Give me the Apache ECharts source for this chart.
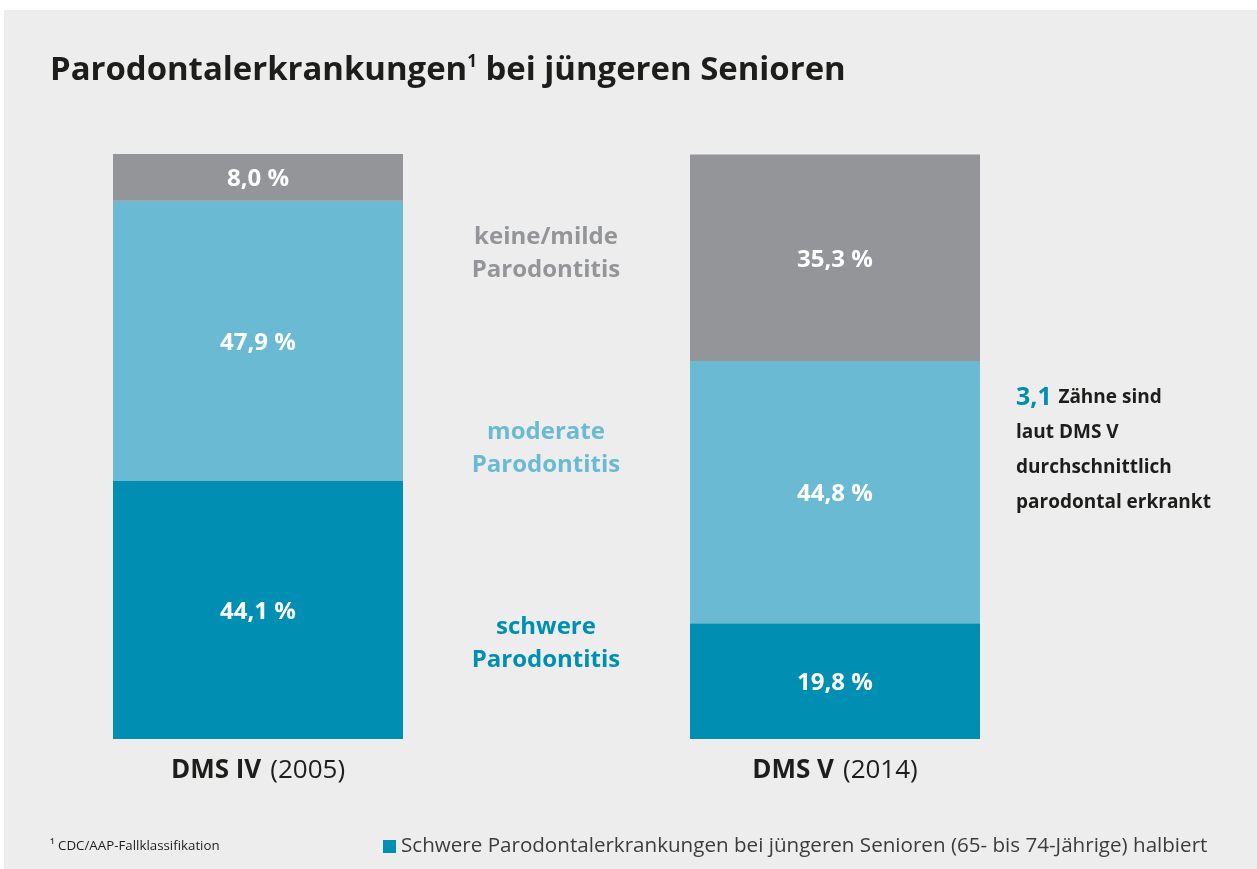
<!DOCTYPE html>
<html>
<head>
<meta charset="utf-8">
<script src="https://cdn.jsdelivr.net/npm/echarts@6/dist/echarts.min.js"></script>
<style>
html,body{margin:0;padding:0;background:#ffffff;}
#bg{position:absolute;left:4px;top:10px;width:1253px;height:859px;background:#ededed;}
#c{position:absolute;left:0;top:0;width:1257px;height:869px;}
</style>
</head>
<body>
<div id="bg"></div>
<div id="c"></div>
<script>
const categories = ['DMS IV', 'DMS V'];
const years = ['2005', '2014'];
const schwere = [44.1, 19.8];
const moderate = [47.9, 44.8];
const keineMilde = [8.0, 35.3];
const seriesNames = ['schwere Parodontitis', 'moderate Parodontitis', 'keine/milde Parodontitis'];
const legendText = 'Schwere Parodontalerkrankungen bei jüngeren Senioren (65- bis 74-Jährige) halbiert';

const FONT = 'Open Sans';
const C_DARK = '#008fb3';
const C_LIGHT = '#6abad4';
const C_GRAY = '#939598';

function fmt(v){ return v.toFixed(1).replace('.', ',') + ' %'; }

const labelStyle = {
  show: true, position: 'inside', color: '#ffffff', fontFamily: FONT,
  fontWeight: 'bold', fontSize: 24, offset: [0, 2],
  formatter: p => fmt(p.value)
};

const chart = echarts.init(document.getElementById('c'), null, {renderer: 'canvas'});
chart.setOption({
  backgroundColor: 'transparent',
  animation: false,
  title: {
    left: 45, top: 49,
    text: 'Parodontalerkrankungen{sup|1} bei jüngeren Senioren',
    textStyle: {
      fontFamily: FONT, fontWeight: 'bold', fontSize: 32.9, color: '#1d1d1b',
      rich: { sup: { fontFamily: FONT, fontWeight: 'bold', fontSize: 17, color: '#1d1d1b', verticalAlign: 'top', padding: [0,0,14,0] } }
    }
  },
  legend: {
    data: [seriesNames[0]],
    left: 378, top: 831,
    icon: 'rect', itemWidth: 13, itemHeight: 13, itemGap: 9,
    formatter: () => legendText,
    textStyle: { fontFamily: FONT, fontSize: 20.6, color: '#3c3c3b' },
    selectedMode: false
  },
  grid: { left: 258, right: 1257 - 835, top: 154, bottom: 869 - 739 },
  xAxis: {
    type: 'category', data: categories, boundaryGap: false,
    axisLine: { show: false }, axisTick: { show: false }, splitLine: { show: false },
    axisLabel: {
      margin: 19,
      formatter: (v, i) => '{b|' + v + '}{r|(' + years[i] + ')}',
      rich: {
        b: { fontFamily: FONT, fontWeight: 'bold', fontSize: 26, color: '#1d1d1b' },
        r: { fontFamily: FONT, fontSize: 26, color: '#1d1d1b', padding: [0, 0, 0, 9] }
      }
    }
  },
  yAxis: { type: 'value', min: 0, max: 100, show: false },
  series: [
    { name: seriesNames[0], type: 'bar', stack: 't', data: schwere, barWidth: 290, clip: false,
      itemStyle: { color: C_DARK }, label: labelStyle },
    { name: seriesNames[1], type: 'bar', stack: 't', data: moderate, barWidth: 290, clip: false,
      itemStyle: { color: C_LIGHT }, label: labelStyle },
    { name: seriesNames[2], type: 'bar', stack: 't', data: keineMilde, barWidth: 290, clip: false,
      itemStyle: { color: C_GRAY }, label: labelStyle }
  ],
  graphic: [
    { type: 'text', x: 546, y: 254, style: { text: 'keine/milde\nParodontitis', fill: C_GRAY, fontFamily: FONT, fontWeight: 'bold', fontSize: 24, lineHeight: 33, align: 'center', verticalAlign: 'middle' } },
    { type: 'text', x: 546, y: 449, style: { text: 'moderate\nParodontitis', fill: C_LIGHT, fontFamily: FONT, fontWeight: 'bold', fontSize: 24, lineHeight: 33, align: 'center', verticalAlign: 'middle' } },
    { type: 'text', x: 546, y: 644, style: { text: 'schwere\nParodontitis', fill: C_DARK, fontFamily: FONT, fontWeight: 'bold', fontSize: 24, lineHeight: 33, align: 'center', verticalAlign: 'middle' } },
    { type: 'text', x: 1016, y: 450, style: {
        text: '{n|3,1}  {t|Zähne sind}\n{t|laut DMS V}\n{t|durchschnittlich}\n{t|parodontal erkrankt}',
        align: 'left', verticalAlign: 'middle', lineHeight: 35,
        rich: {
          n: { fontFamily: FONT, fontWeight: 'bold', fontSize: 25, fill: C_DARK, lineHeight: 35 },
          t: { fontFamily: FONT, fontWeight: 'bold', fontSize: 19, fill: '#1d1d1b', lineHeight: 35 }
        } } },
    { type: 'text', x: 50, y: 846, style: { text: '¹ CDC/AAP-Fallklassifikation', fill: '#1d1d1b', fontFamily: FONT, fontSize: 13.3, verticalAlign: 'middle' } }
  ]
});
</script>
</body>
</html>
